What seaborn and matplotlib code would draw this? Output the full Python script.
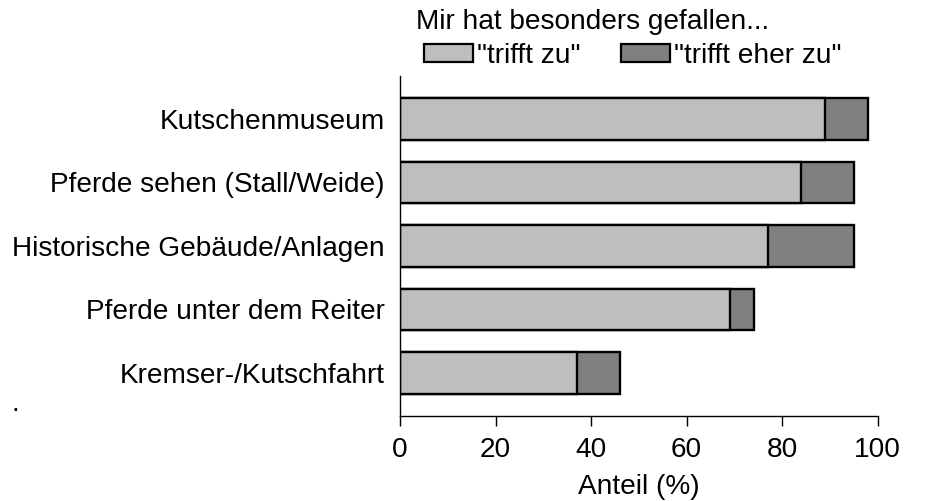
import matplotlib
matplotlib.use("Agg")
import matplotlib.pyplot as plt
import seaborn as sns
import pandas as pd
from matplotlib.patches import Patch

categories = [
    "Kutschenmuseum",
    "Pferde sehen (Stall/Weide)",
    "Historische Gebäude/Anlagen",
    "Pferde unter dem Reiter",
    "Kremser-/Kutschfahrt",
]
trifft_zu = [89, 84, 77, 69, 37]
trifft_eher_zu = [9, 11, 18, 5, 9]
series_labels = ['"trifft zu"', '"trifft eher zu"']
legend_title = "Mir hat besonders gefallen..."
x_ticks = [0, 20, 40, 60, 80, 100]

sns.set_theme(style="white")
plt.rcParams["font.family"] = ["Liberation Sans", "DejaVu Sans"]
plt.rcParams.update({
    "text.color": "black",
    "axes.labelcolor": "black",
    "xtick.color": "black",
    "ytick.color": "black",
})

light = "#bebebe"
dark = "#808080"
fs = 20.2

df = pd.DataFrame({
    "Aktivität": categories,
    "zu": trifft_zu,
    "gesamt": [a + b for a, b in zip(trifft_zu, trifft_eher_zu)],
})

fig = plt.figure(figsize=(9.36, 5.01), dpi=100)
ax = fig.add_axes([0.4274, 0.1697, 0.9377 - 0.4274, 0.8483 - 0.1697])

sns.barplot(data=df, x="gesamt", y="Aktivität", orient="h", color=dark,
            width=0.66, edgecolor="black", linewidth=1.7, saturation=1, ax=ax)
sns.barplot(data=df, x="zu", y="Aktivität", orient="h", color=light,
            width=0.66, edgecolor="black", linewidth=1.7, saturation=1, ax=ax)

ax.set_xlim(0, 100)
ax.set_ylim(4.677, -0.677)
ax.set_xticks(x_ticks)
ax.set_xticklabels([str(t) for t in x_ticks], fontsize=fs)
ax.tick_params(axis="x", direction="out", length=7, width=1.0, color="black",
               bottom=True, pad=8)
ax.tick_params(axis="y", left=False, length=0, labelsize=fs, pad=11)
ax.set_ylabel("")
ax.set_xlabel("Anteil (%)", fontsize=fs, labelpad=8)
for s in ["top", "right"]:
    ax.spines[s].set_visible(False)
for s in ["left", "bottom"]:
    ax.spines[s].set_color("black")
    ax.spines[s].set_linewidth(1.0)

handles = [Patch(facecolor=light, edgecolor="black", linewidth=1.6),
           Patch(facecolor=dark, edgecolor="black", linewidth=1.6)]
leg = fig.legend(handles, series_labels, title=legend_title, ncol=2,
                 frameon=False, fontsize=fs, title_fontsize=fs,
                 loc="upper left", bbox_to_anchor=(0.445, 0.997),
                 handlelength=1.75, handleheight=0.65, handletextpad=0.15,
                 columnspacing=1.45, borderaxespad=0.15, borderpad=0.1,
                 labelspacing=0.2)
leg._legend_box.align = "left"
leg._legend_box.sep = 6
leg.get_title().set_position((-8, 0))

fig.text(0.012, 0.180, ".", fontsize=fs, color="black")

fig.savefig("out.png", dpi=100)
